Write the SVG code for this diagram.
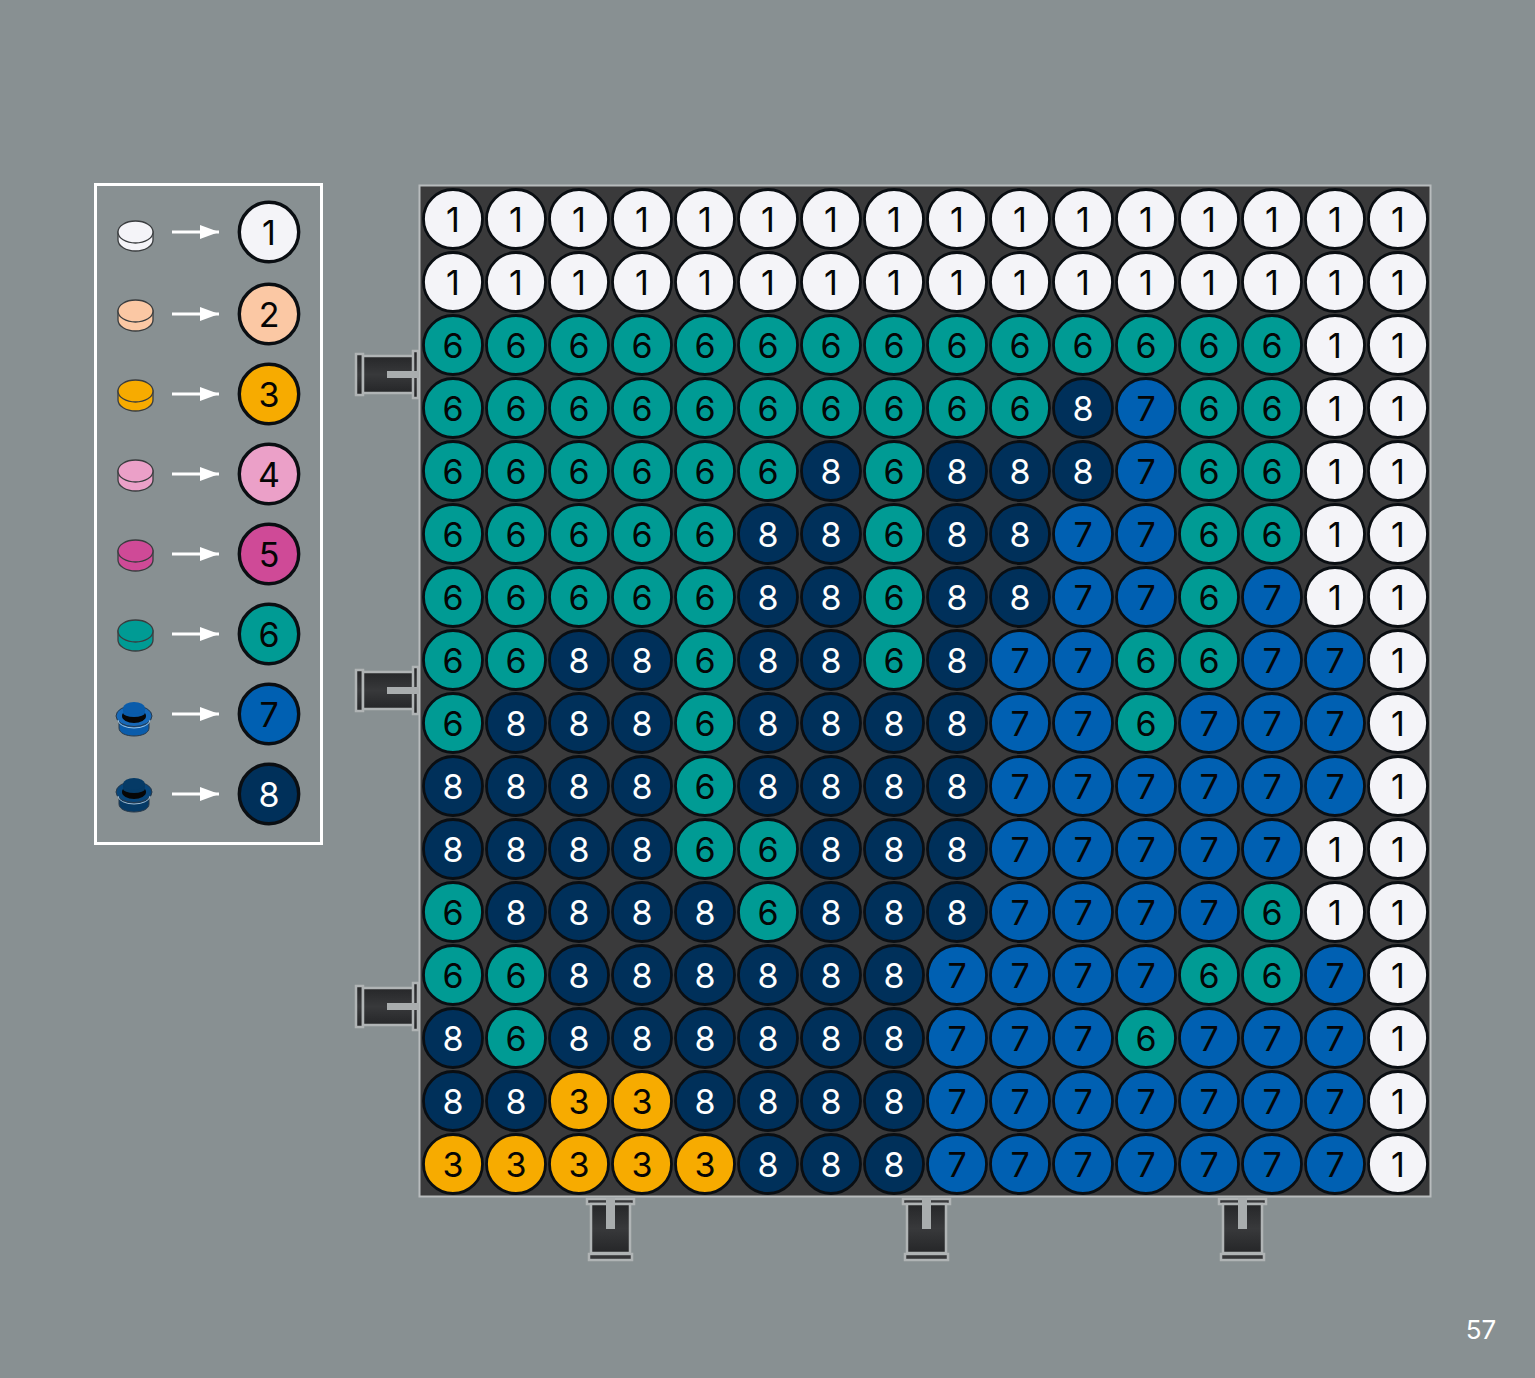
<svg xmlns="http://www.w3.org/2000/svg" width="1535" height="1378" viewBox="0 0 1535 1378">
<defs>
<style>
text{font-family:"Inter","Noto Sans",sans-serif;font-weight:400;font-size:34px;text-anchor:middle;fill:#050505}
circle{stroke:#0a0e12;stroke-width:2.800}
.key circle{stroke-width:3.400}
.n1 circle{fill:#f4f4f8}.n2 circle{fill:#fbc8a4}.n3 circle{fill:#f7ab00}.n4 circle{fill:#eba0c8}.n5 circle{fill:#cf4a97}.n6 circle{fill:#009b94}.n7 circle{fill:#0060b2}.n8 circle{fill:#00305a}
.n8 text{fill:#fff}
.a{stroke:#fff;stroke-width:3;fill:none}
.b{stroke:#3a3d3f;stroke-width:1.300}
.pin{fill:url(#metal);stroke:#b0b4b5;stroke-width:2.500}
</style>
<linearGradient id="metal" x1="0" y1="0" x2="0" y2="1"><stop offset="0" stop-color="#262729"/><stop offset=".5" stop-color="#38393b"/><stop offset="1" stop-color="#252628"/></linearGradient>
<marker id="ah" markerUnits="userSpaceOnUse" markerWidth="20" markerHeight="16" refX="19" refY="7" orient="auto"><path d="M0 0L19 7L0 14Z" fill="#fff"/></marker>
<g id="pinL">
<rect class="pin" x="356" y="354" width="7" height="41"/>
<rect class="pin" x="363" y="356" width="51" height="37"/>
<rect class="pin" x="413" y="351" width="5" height="47"/>
<rect x="387" y="371" width="32" height="7" fill="#a9adae"/>
</g>
<g id="pinB">
<rect class="pin" x="587" y="1199" width="47" height="5"/>
<rect class="pin" x="591" y="1204" width="39" height="49"/>
<rect class="pin" x="589" y="1254" width="43" height="6"/>
<rect x="606" y="1198" width="9" height="31" fill="#a9adae"/>
</g>
</defs>
<rect width="1535" height="1378" fill="#889092"/>
<g id="legend"><rect x="95.500" y="184.500" width="226" height="659" fill="none" stroke="#fff" stroke-width="3"/></g>
<g id="board"><rect x="419.500" y="185.500" width="1011" height="1011" fill="#3a3a3b" stroke="#b8bcbd" stroke-width="2"/></g>
<g id="clips">
<use href="#pinL"/><use href="#pinL" y="316"/><use href="#pinL" y="632"/>
<use href="#pinB"/><use href="#pinB" x="316"/><use href="#pinB" x="632"/>
</g>
<g id="connectors">
<path class="a" marker-end="url(#ah)" d="M172 232H219"/>
<path class="a" marker-end="url(#ah)" d="M172 314H219"/>
<path class="a" marker-end="url(#ah)" d="M172 394H219"/>
<path class="a" marker-end="url(#ah)" d="M172 474H219"/>
<path class="a" marker-end="url(#ah)" d="M172 554H219"/>
<path class="a" marker-end="url(#ah)" d="M172 634H219"/>
<path class="a" marker-end="url(#ah)" d="M172 714H219"/>
<path class="a" marker-end="url(#ah)" d="M172 794H219"/>
</g>
<g id="part1"><path class="b" fill="#f4f4f8" d="M118 232v8c0 6 8 11 17.500 11s17.500-5 17.500-11v-8z"/><ellipse class="b" cx="135.500" cy="232" rx="17.500" ry="11" fill="#f4f4f8"/></g>
<g id="part2"><path class="b" fill="#fbc8a4" d="M118 311v9c0 6 8 11 17.500 11s17.500-5 17.500-11v-9z"/><ellipse class="b" cx="135.500" cy="311" rx="17.500" ry="11" fill="#fbc8a4"/></g>
<g id="part3"><path class="b" fill="#f7ab00" d="M118 391v9c0 6 8 11 17.500 11s17.500-5 17.500-11v-9z"/><ellipse class="b" cx="135.500" cy="391" rx="17.500" ry="11" fill="#f7ab00"/></g>
<g id="part4"><path class="b" fill="#eba0c8" d="M118 471v9c0 6 8 11 17.500 11s17.500-5 17.500-11v-9z"/><ellipse class="b" cx="135.500" cy="471" rx="17.500" ry="11" fill="#eba0c8"/></g>
<g id="part5"><path class="b" fill="#cf4a97" d="M118 551v9c0 6 8 11 17.500 11s17.500-5 17.500-11v-9z"/><ellipse class="b" cx="135.500" cy="551" rx="17.500" ry="11" fill="#cf4a97"/></g>
<g id="part6"><path class="b" fill="#009b94" d="M118 631v9c0 6 8 11 17.500 11s17.500-5 17.500-11v-9z"/><ellipse class="b" cx="135.500" cy="631" rx="17.500" ry="11" fill="#009b94"/></g>
<g id="part7"><path fill="#0a5cab" stroke="#2a3a4a" d="M119 722v6c0 5 7 8 15 8s15-3 15-8v-6z"/><ellipse cx="134" cy="716" rx="18" ry="10.500" fill="#1668b8" stroke="#2a3a4a"/><path d="M118 720a16 8 0 0 0 32 0" fill="none" stroke="#9fc3e0" stroke-width="1"/><ellipse cx="134" cy="716" rx="12" ry="7" fill="#060606"/><path d="M123 708v5a11 4 0 0 0 22 0v-5z" fill="#0a5cab"/><ellipse cx="134" cy="708" rx="11" ry="6" fill="#0a5cab"/></g>
<g id="part8"><path fill="#053a66" stroke="#2a3a4a" d="M119 798v6c0 5 7 8 15 8s15-3 15-8v-6z"/><ellipse cx="134" cy="792" rx="18" ry="10.500" fill="#07457a" stroke="#2a3a4a"/><path d="M118 796a16 8 0 0 0 32 0" fill="none" stroke="#9fb8cc" stroke-width="1"/><ellipse cx="134" cy="792" rx="12" ry="7" fill="#060606"/><path d="M123 784v5a11 4 0 0 0 22 0v-5z" fill="#053a66"/><ellipse cx="134" cy="784" rx="11" ry="6" fill="#053a66"/></g>
<g id="key1" class="key n1" transform="translate(269 232)"><circle r="29.700"/><text y="13">1</text></g>
<g id="key2" class="key n2" transform="translate(269 314)"><circle r="29.700"/><text y="13">2</text></g>
<g id="key3" class="key n3" transform="translate(269 394)"><circle r="29.700"/><text y="13">3</text></g>
<g id="key4" class="key n4" transform="translate(269 474)"><circle r="29.700"/><text y="13">4</text></g>
<g id="key5" class="key n5" transform="translate(269 554)"><circle r="29.700"/><text y="13">5</text></g>
<g id="key6" class="key n6" transform="translate(269 634)"><circle r="29.700"/><text y="13">6</text></g>
<g id="key7" class="key n7" transform="translate(269 714)"><circle r="29.700"/><text y="13">7</text></g>
<g id="key8" class="key n8" transform="translate(269 794)"><circle r="29.700"/><text y="13">8</text></g>
<g id="grid">
<g id="r0c0" class="n1" transform="translate(453 219)"><circle r="29.500"/><text y="13">1</text></g><g id="r0c1" class="n1" transform="translate(516 219)"><circle r="29.500"/><text y="13">1</text></g><g id="r0c2" class="n1" transform="translate(579 219)"><circle r="29.500"/><text y="13">1</text></g><g id="r0c3" class="n1" transform="translate(642 219)"><circle r="29.500"/><text y="13">1</text></g><g id="r0c4" class="n1" transform="translate(705 219)"><circle r="29.500"/><text y="13">1</text></g><g id="r0c5" class="n1" transform="translate(768 219)"><circle r="29.500"/><text y="13">1</text></g><g id="r0c6" class="n1" transform="translate(831 219)"><circle r="29.500"/><text y="13">1</text></g><g id="r0c7" class="n1" transform="translate(894 219)"><circle r="29.500"/><text y="13">1</text></g><g id="r0c8" class="n1" transform="translate(957 219)"><circle r="29.500"/><text y="13">1</text></g><g id="r0c9" class="n1" transform="translate(1020 219)"><circle r="29.500"/><text y="13">1</text></g><g id="r0c10" class="n1" transform="translate(1083 219)"><circle r="29.500"/><text y="13">1</text></g><g id="r0c11" class="n1" transform="translate(1146 219)"><circle r="29.500"/><text y="13">1</text></g><g id="r0c12" class="n1" transform="translate(1209 219)"><circle r="29.500"/><text y="13">1</text></g><g id="r0c13" class="n1" transform="translate(1272 219)"><circle r="29.500"/><text y="13">1</text></g><g id="r0c14" class="n1" transform="translate(1335 219)"><circle r="29.500"/><text y="13">1</text></g><g id="r0c15" class="n1" transform="translate(1398 219)"><circle r="29.500"/><text y="13">1</text></g>
<g id="r1c0" class="n1" transform="translate(453 282)"><circle r="29.500"/><text y="13">1</text></g><g id="r1c1" class="n1" transform="translate(516 282)"><circle r="29.500"/><text y="13">1</text></g><g id="r1c2" class="n1" transform="translate(579 282)"><circle r="29.500"/><text y="13">1</text></g><g id="r1c3" class="n1" transform="translate(642 282)"><circle r="29.500"/><text y="13">1</text></g><g id="r1c4" class="n1" transform="translate(705 282)"><circle r="29.500"/><text y="13">1</text></g><g id="r1c5" class="n1" transform="translate(768 282)"><circle r="29.500"/><text y="13">1</text></g><g id="r1c6" class="n1" transform="translate(831 282)"><circle r="29.500"/><text y="13">1</text></g><g id="r1c7" class="n1" transform="translate(894 282)"><circle r="29.500"/><text y="13">1</text></g><g id="r1c8" class="n1" transform="translate(957 282)"><circle r="29.500"/><text y="13">1</text></g><g id="r1c9" class="n1" transform="translate(1020 282)"><circle r="29.500"/><text y="13">1</text></g><g id="r1c10" class="n1" transform="translate(1083 282)"><circle r="29.500"/><text y="13">1</text></g><g id="r1c11" class="n1" transform="translate(1146 282)"><circle r="29.500"/><text y="13">1</text></g><g id="r1c12" class="n1" transform="translate(1209 282)"><circle r="29.500"/><text y="13">1</text></g><g id="r1c13" class="n1" transform="translate(1272 282)"><circle r="29.500"/><text y="13">1</text></g><g id="r1c14" class="n1" transform="translate(1335 282)"><circle r="29.500"/><text y="13">1</text></g><g id="r1c15" class="n1" transform="translate(1398 282)"><circle r="29.500"/><text y="13">1</text></g>
<g id="r2c0" class="n6" transform="translate(453 345)"><circle r="29.500"/><text y="13">6</text></g><g id="r2c1" class="n6" transform="translate(516 345)"><circle r="29.500"/><text y="13">6</text></g><g id="r2c2" class="n6" transform="translate(579 345)"><circle r="29.500"/><text y="13">6</text></g><g id="r2c3" class="n6" transform="translate(642 345)"><circle r="29.500"/><text y="13">6</text></g><g id="r2c4" class="n6" transform="translate(705 345)"><circle r="29.500"/><text y="13">6</text></g><g id="r2c5" class="n6" transform="translate(768 345)"><circle r="29.500"/><text y="13">6</text></g><g id="r2c6" class="n6" transform="translate(831 345)"><circle r="29.500"/><text y="13">6</text></g><g id="r2c7" class="n6" transform="translate(894 345)"><circle r="29.500"/><text y="13">6</text></g><g id="r2c8" class="n6" transform="translate(957 345)"><circle r="29.500"/><text y="13">6</text></g><g id="r2c9" class="n6" transform="translate(1020 345)"><circle r="29.500"/><text y="13">6</text></g><g id="r2c10" class="n6" transform="translate(1083 345)"><circle r="29.500"/><text y="13">6</text></g><g id="r2c11" class="n6" transform="translate(1146 345)"><circle r="29.500"/><text y="13">6</text></g><g id="r2c12" class="n6" transform="translate(1209 345)"><circle r="29.500"/><text y="13">6</text></g><g id="r2c13" class="n6" transform="translate(1272 345)"><circle r="29.500"/><text y="13">6</text></g><g id="r2c14" class="n1" transform="translate(1335 345)"><circle r="29.500"/><text y="13">1</text></g><g id="r2c15" class="n1" transform="translate(1398 345)"><circle r="29.500"/><text y="13">1</text></g>
<g id="r3c0" class="n6" transform="translate(453 408)"><circle r="29.500"/><text y="13">6</text></g><g id="r3c1" class="n6" transform="translate(516 408)"><circle r="29.500"/><text y="13">6</text></g><g id="r3c2" class="n6" transform="translate(579 408)"><circle r="29.500"/><text y="13">6</text></g><g id="r3c3" class="n6" transform="translate(642 408)"><circle r="29.500"/><text y="13">6</text></g><g id="r3c4" class="n6" transform="translate(705 408)"><circle r="29.500"/><text y="13">6</text></g><g id="r3c5" class="n6" transform="translate(768 408)"><circle r="29.500"/><text y="13">6</text></g><g id="r3c6" class="n6" transform="translate(831 408)"><circle r="29.500"/><text y="13">6</text></g><g id="r3c7" class="n6" transform="translate(894 408)"><circle r="29.500"/><text y="13">6</text></g><g id="r3c8" class="n6" transform="translate(957 408)"><circle r="29.500"/><text y="13">6</text></g><g id="r3c9" class="n6" transform="translate(1020 408)"><circle r="29.500"/><text y="13">6</text></g><g id="r3c10" class="n8" transform="translate(1083 408)"><circle r="29.500"/><text y="13">8</text></g><g id="r3c11" class="n7" transform="translate(1146 408)"><circle r="29.500"/><text y="13">7</text></g><g id="r3c12" class="n6" transform="translate(1209 408)"><circle r="29.500"/><text y="13">6</text></g><g id="r3c13" class="n6" transform="translate(1272 408)"><circle r="29.500"/><text y="13">6</text></g><g id="r3c14" class="n1" transform="translate(1335 408)"><circle r="29.500"/><text y="13">1</text></g><g id="r3c15" class="n1" transform="translate(1398 408)"><circle r="29.500"/><text y="13">1</text></g>
<g id="r4c0" class="n6" transform="translate(453 471)"><circle r="29.500"/><text y="13">6</text></g><g id="r4c1" class="n6" transform="translate(516 471)"><circle r="29.500"/><text y="13">6</text></g><g id="r4c2" class="n6" transform="translate(579 471)"><circle r="29.500"/><text y="13">6</text></g><g id="r4c3" class="n6" transform="translate(642 471)"><circle r="29.500"/><text y="13">6</text></g><g id="r4c4" class="n6" transform="translate(705 471)"><circle r="29.500"/><text y="13">6</text></g><g id="r4c5" class="n6" transform="translate(768 471)"><circle r="29.500"/><text y="13">6</text></g><g id="r4c6" class="n8" transform="translate(831 471)"><circle r="29.500"/><text y="13">8</text></g><g id="r4c7" class="n6" transform="translate(894 471)"><circle r="29.500"/><text y="13">6</text></g><g id="r4c8" class="n8" transform="translate(957 471)"><circle r="29.500"/><text y="13">8</text></g><g id="r4c9" class="n8" transform="translate(1020 471)"><circle r="29.500"/><text y="13">8</text></g><g id="r4c10" class="n8" transform="translate(1083 471)"><circle r="29.500"/><text y="13">8</text></g><g id="r4c11" class="n7" transform="translate(1146 471)"><circle r="29.500"/><text y="13">7</text></g><g id="r4c12" class="n6" transform="translate(1209 471)"><circle r="29.500"/><text y="13">6</text></g><g id="r4c13" class="n6" transform="translate(1272 471)"><circle r="29.500"/><text y="13">6</text></g><g id="r4c14" class="n1" transform="translate(1335 471)"><circle r="29.500"/><text y="13">1</text></g><g id="r4c15" class="n1" transform="translate(1398 471)"><circle r="29.500"/><text y="13">1</text></g>
<g id="r5c0" class="n6" transform="translate(453 534)"><circle r="29.500"/><text y="13">6</text></g><g id="r5c1" class="n6" transform="translate(516 534)"><circle r="29.500"/><text y="13">6</text></g><g id="r5c2" class="n6" transform="translate(579 534)"><circle r="29.500"/><text y="13">6</text></g><g id="r5c3" class="n6" transform="translate(642 534)"><circle r="29.500"/><text y="13">6</text></g><g id="r5c4" class="n6" transform="translate(705 534)"><circle r="29.500"/><text y="13">6</text></g><g id="r5c5" class="n8" transform="translate(768 534)"><circle r="29.500"/><text y="13">8</text></g><g id="r5c6" class="n8" transform="translate(831 534)"><circle r="29.500"/><text y="13">8</text></g><g id="r5c7" class="n6" transform="translate(894 534)"><circle r="29.500"/><text y="13">6</text></g><g id="r5c8" class="n8" transform="translate(957 534)"><circle r="29.500"/><text y="13">8</text></g><g id="r5c9" class="n8" transform="translate(1020 534)"><circle r="29.500"/><text y="13">8</text></g><g id="r5c10" class="n7" transform="translate(1083 534)"><circle r="29.500"/><text y="13">7</text></g><g id="r5c11" class="n7" transform="translate(1146 534)"><circle r="29.500"/><text y="13">7</text></g><g id="r5c12" class="n6" transform="translate(1209 534)"><circle r="29.500"/><text y="13">6</text></g><g id="r5c13" class="n6" transform="translate(1272 534)"><circle r="29.500"/><text y="13">6</text></g><g id="r5c14" class="n1" transform="translate(1335 534)"><circle r="29.500"/><text y="13">1</text></g><g id="r5c15" class="n1" transform="translate(1398 534)"><circle r="29.500"/><text y="13">1</text></g>
<g id="r6c0" class="n6" transform="translate(453 597)"><circle r="29.500"/><text y="13">6</text></g><g id="r6c1" class="n6" transform="translate(516 597)"><circle r="29.500"/><text y="13">6</text></g><g id="r6c2" class="n6" transform="translate(579 597)"><circle r="29.500"/><text y="13">6</text></g><g id="r6c3" class="n6" transform="translate(642 597)"><circle r="29.500"/><text y="13">6</text></g><g id="r6c4" class="n6" transform="translate(705 597)"><circle r="29.500"/><text y="13">6</text></g><g id="r6c5" class="n8" transform="translate(768 597)"><circle r="29.500"/><text y="13">8</text></g><g id="r6c6" class="n8" transform="translate(831 597)"><circle r="29.500"/><text y="13">8</text></g><g id="r6c7" class="n6" transform="translate(894 597)"><circle r="29.500"/><text y="13">6</text></g><g id="r6c8" class="n8" transform="translate(957 597)"><circle r="29.500"/><text y="13">8</text></g><g id="r6c9" class="n8" transform="translate(1020 597)"><circle r="29.500"/><text y="13">8</text></g><g id="r6c10" class="n7" transform="translate(1083 597)"><circle r="29.500"/><text y="13">7</text></g><g id="r6c11" class="n7" transform="translate(1146 597)"><circle r="29.500"/><text y="13">7</text></g><g id="r6c12" class="n6" transform="translate(1209 597)"><circle r="29.500"/><text y="13">6</text></g><g id="r6c13" class="n7" transform="translate(1272 597)"><circle r="29.500"/><text y="13">7</text></g><g id="r6c14" class="n1" transform="translate(1335 597)"><circle r="29.500"/><text y="13">1</text></g><g id="r6c15" class="n1" transform="translate(1398 597)"><circle r="29.500"/><text y="13">1</text></g>
<g id="r7c0" class="n6" transform="translate(453 660)"><circle r="29.500"/><text y="13">6</text></g><g id="r7c1" class="n6" transform="translate(516 660)"><circle r="29.500"/><text y="13">6</text></g><g id="r7c2" class="n8" transform="translate(579 660)"><circle r="29.500"/><text y="13">8</text></g><g id="r7c3" class="n8" transform="translate(642 660)"><circle r="29.500"/><text y="13">8</text></g><g id="r7c4" class="n6" transform="translate(705 660)"><circle r="29.500"/><text y="13">6</text></g><g id="r7c5" class="n8" transform="translate(768 660)"><circle r="29.500"/><text y="13">8</text></g><g id="r7c6" class="n8" transform="translate(831 660)"><circle r="29.500"/><text y="13">8</text></g><g id="r7c7" class="n6" transform="translate(894 660)"><circle r="29.500"/><text y="13">6</text></g><g id="r7c8" class="n8" transform="translate(957 660)"><circle r="29.500"/><text y="13">8</text></g><g id="r7c9" class="n7" transform="translate(1020 660)"><circle r="29.500"/><text y="13">7</text></g><g id="r7c10" class="n7" transform="translate(1083 660)"><circle r="29.500"/><text y="13">7</text></g><g id="r7c11" class="n6" transform="translate(1146 660)"><circle r="29.500"/><text y="13">6</text></g><g id="r7c12" class="n6" transform="translate(1209 660)"><circle r="29.500"/><text y="13">6</text></g><g id="r7c13" class="n7" transform="translate(1272 660)"><circle r="29.500"/><text y="13">7</text></g><g id="r7c14" class="n7" transform="translate(1335 660)"><circle r="29.500"/><text y="13">7</text></g><g id="r7c15" class="n1" transform="translate(1398 660)"><circle r="29.500"/><text y="13">1</text></g>
<g id="r8c0" class="n6" transform="translate(453 723)"><circle r="29.500"/><text y="13">6</text></g><g id="r8c1" class="n8" transform="translate(516 723)"><circle r="29.500"/><text y="13">8</text></g><g id="r8c2" class="n8" transform="translate(579 723)"><circle r="29.500"/><text y="13">8</text></g><g id="r8c3" class="n8" transform="translate(642 723)"><circle r="29.500"/><text y="13">8</text></g><g id="r8c4" class="n6" transform="translate(705 723)"><circle r="29.500"/><text y="13">6</text></g><g id="r8c5" class="n8" transform="translate(768 723)"><circle r="29.500"/><text y="13">8</text></g><g id="r8c6" class="n8" transform="translate(831 723)"><circle r="29.500"/><text y="13">8</text></g><g id="r8c7" class="n8" transform="translate(894 723)"><circle r="29.500"/><text y="13">8</text></g><g id="r8c8" class="n8" transform="translate(957 723)"><circle r="29.500"/><text y="13">8</text></g><g id="r8c9" class="n7" transform="translate(1020 723)"><circle r="29.500"/><text y="13">7</text></g><g id="r8c10" class="n7" transform="translate(1083 723)"><circle r="29.500"/><text y="13">7</text></g><g id="r8c11" class="n6" transform="translate(1146 723)"><circle r="29.500"/><text y="13">6</text></g><g id="r8c12" class="n7" transform="translate(1209 723)"><circle r="29.500"/><text y="13">7</text></g><g id="r8c13" class="n7" transform="translate(1272 723)"><circle r="29.500"/><text y="13">7</text></g><g id="r8c14" class="n7" transform="translate(1335 723)"><circle r="29.500"/><text y="13">7</text></g><g id="r8c15" class="n1" transform="translate(1398 723)"><circle r="29.500"/><text y="13">1</text></g>
<g id="r9c0" class="n8" transform="translate(453 786)"><circle r="29.500"/><text y="13">8</text></g><g id="r9c1" class="n8" transform="translate(516 786)"><circle r="29.500"/><text y="13">8</text></g><g id="r9c2" class="n8" transform="translate(579 786)"><circle r="29.500"/><text y="13">8</text></g><g id="r9c3" class="n8" transform="translate(642 786)"><circle r="29.500"/><text y="13">8</text></g><g id="r9c4" class="n6" transform="translate(705 786)"><circle r="29.500"/><text y="13">6</text></g><g id="r9c5" class="n8" transform="translate(768 786)"><circle r="29.500"/><text y="13">8</text></g><g id="r9c6" class="n8" transform="translate(831 786)"><circle r="29.500"/><text y="13">8</text></g><g id="r9c7" class="n8" transform="translate(894 786)"><circle r="29.500"/><text y="13">8</text></g><g id="r9c8" class="n8" transform="translate(957 786)"><circle r="29.500"/><text y="13">8</text></g><g id="r9c9" class="n7" transform="translate(1020 786)"><circle r="29.500"/><text y="13">7</text></g><g id="r9c10" class="n7" transform="translate(1083 786)"><circle r="29.500"/><text y="13">7</text></g><g id="r9c11" class="n7" transform="translate(1146 786)"><circle r="29.500"/><text y="13">7</text></g><g id="r9c12" class="n7" transform="translate(1209 786)"><circle r="29.500"/><text y="13">7</text></g><g id="r9c13" class="n7" transform="translate(1272 786)"><circle r="29.500"/><text y="13">7</text></g><g id="r9c14" class="n7" transform="translate(1335 786)"><circle r="29.500"/><text y="13">7</text></g><g id="r9c15" class="n1" transform="translate(1398 786)"><circle r="29.500"/><text y="13">1</text></g>
<g id="r10c0" class="n8" transform="translate(453 849)"><circle r="29.500"/><text y="13">8</text></g><g id="r10c1" class="n8" transform="translate(516 849)"><circle r="29.500"/><text y="13">8</text></g><g id="r10c2" class="n8" transform="translate(579 849)"><circle r="29.500"/><text y="13">8</text></g><g id="r10c3" class="n8" transform="translate(642 849)"><circle r="29.500"/><text y="13">8</text></g><g id="r10c4" class="n6" transform="translate(705 849)"><circle r="29.500"/><text y="13">6</text></g><g id="r10c5" class="n6" transform="translate(768 849)"><circle r="29.500"/><text y="13">6</text></g><g id="r10c6" class="n8" transform="translate(831 849)"><circle r="29.500"/><text y="13">8</text></g><g id="r10c7" class="n8" transform="translate(894 849)"><circle r="29.500"/><text y="13">8</text></g><g id="r10c8" class="n8" transform="translate(957 849)"><circle r="29.500"/><text y="13">8</text></g><g id="r10c9" class="n7" transform="translate(1020 849)"><circle r="29.500"/><text y="13">7</text></g><g id="r10c10" class="n7" transform="translate(1083 849)"><circle r="29.500"/><text y="13">7</text></g><g id="r10c11" class="n7" transform="translate(1146 849)"><circle r="29.500"/><text y="13">7</text></g><g id="r10c12" class="n7" transform="translate(1209 849)"><circle r="29.500"/><text y="13">7</text></g><g id="r10c13" class="n7" transform="translate(1272 849)"><circle r="29.500"/><text y="13">7</text></g><g id="r10c14" class="n1" transform="translate(1335 849)"><circle r="29.500"/><text y="13">1</text></g><g id="r10c15" class="n1" transform="translate(1398 849)"><circle r="29.500"/><text y="13">1</text></g>
<g id="r11c0" class="n6" transform="translate(453 912)"><circle r="29.500"/><text y="13">6</text></g><g id="r11c1" class="n8" transform="translate(516 912)"><circle r="29.500"/><text y="13">8</text></g><g id="r11c2" class="n8" transform="translate(579 912)"><circle r="29.500"/><text y="13">8</text></g><g id="r11c3" class="n8" transform="translate(642 912)"><circle r="29.500"/><text y="13">8</text></g><g id="r11c4" class="n8" transform="translate(705 912)"><circle r="29.500"/><text y="13">8</text></g><g id="r11c5" class="n6" transform="translate(768 912)"><circle r="29.500"/><text y="13">6</text></g><g id="r11c6" class="n8" transform="translate(831 912)"><circle r="29.500"/><text y="13">8</text></g><g id="r11c7" class="n8" transform="translate(894 912)"><circle r="29.500"/><text y="13">8</text></g><g id="r11c8" class="n8" transform="translate(957 912)"><circle r="29.500"/><text y="13">8</text></g><g id="r11c9" class="n7" transform="translate(1020 912)"><circle r="29.500"/><text y="13">7</text></g><g id="r11c10" class="n7" transform="translate(1083 912)"><circle r="29.500"/><text y="13">7</text></g><g id="r11c11" class="n7" transform="translate(1146 912)"><circle r="29.500"/><text y="13">7</text></g><g id="r11c12" class="n7" transform="translate(1209 912)"><circle r="29.500"/><text y="13">7</text></g><g id="r11c13" class="n6" transform="translate(1272 912)"><circle r="29.500"/><text y="13">6</text></g><g id="r11c14" class="n1" transform="translate(1335 912)"><circle r="29.500"/><text y="13">1</text></g><g id="r11c15" class="n1" transform="translate(1398 912)"><circle r="29.500"/><text y="13">1</text></g>
<g id="r12c0" class="n6" transform="translate(453 975)"><circle r="29.500"/><text y="13">6</text></g><g id="r12c1" class="n6" transform="translate(516 975)"><circle r="29.500"/><text y="13">6</text></g><g id="r12c2" class="n8" transform="translate(579 975)"><circle r="29.500"/><text y="13">8</text></g><g id="r12c3" class="n8" transform="translate(642 975)"><circle r="29.500"/><text y="13">8</text></g><g id="r12c4" class="n8" transform="translate(705 975)"><circle r="29.500"/><text y="13">8</text></g><g id="r12c5" class="n8" transform="translate(768 975)"><circle r="29.500"/><text y="13">8</text></g><g id="r12c6" class="n8" transform="translate(831 975)"><circle r="29.500"/><text y="13">8</text></g><g id="r12c7" class="n8" transform="translate(894 975)"><circle r="29.500"/><text y="13">8</text></g><g id="r12c8" class="n7" transform="translate(957 975)"><circle r="29.500"/><text y="13">7</text></g><g id="r12c9" class="n7" transform="translate(1020 975)"><circle r="29.500"/><text y="13">7</text></g><g id="r12c10" class="n7" transform="translate(1083 975)"><circle r="29.500"/><text y="13">7</text></g><g id="r12c11" class="n7" transform="translate(1146 975)"><circle r="29.500"/><text y="13">7</text></g><g id="r12c12" class="n6" transform="translate(1209 975)"><circle r="29.500"/><text y="13">6</text></g><g id="r12c13" class="n6" transform="translate(1272 975)"><circle r="29.500"/><text y="13">6</text></g><g id="r12c14" class="n7" transform="translate(1335 975)"><circle r="29.500"/><text y="13">7</text></g><g id="r12c15" class="n1" transform="translate(1398 975)"><circle r="29.500"/><text y="13">1</text></g>
<g id="r13c0" class="n8" transform="translate(453 1038)"><circle r="29.500"/><text y="13">8</text></g><g id="r13c1" class="n6" transform="translate(516 1038)"><circle r="29.500"/><text y="13">6</text></g><g id="r13c2" class="n8" transform="translate(579 1038)"><circle r="29.500"/><text y="13">8</text></g><g id="r13c3" class="n8" transform="translate(642 1038)"><circle r="29.500"/><text y="13">8</text></g><g id="r13c4" class="n8" transform="translate(705 1038)"><circle r="29.500"/><text y="13">8</text></g><g id="r13c5" class="n8" transform="translate(768 1038)"><circle r="29.500"/><text y="13">8</text></g><g id="r13c6" class="n8" transform="translate(831 1038)"><circle r="29.500"/><text y="13">8</text></g><g id="r13c7" class="n8" transform="translate(894 1038)"><circle r="29.500"/><text y="13">8</text></g><g id="r13c8" class="n7" transform="translate(957 1038)"><circle r="29.500"/><text y="13">7</text></g><g id="r13c9" class="n7" transform="translate(1020 1038)"><circle r="29.500"/><text y="13">7</text></g><g id="r13c10" class="n7" transform="translate(1083 1038)"><circle r="29.500"/><text y="13">7</text></g><g id="r13c11" class="n6" transform="translate(1146 1038)"><circle r="29.500"/><text y="13">6</text></g><g id="r13c12" class="n7" transform="translate(1209 1038)"><circle r="29.500"/><text y="13">7</text></g><g id="r13c13" class="n7" transform="translate(1272 1038)"><circle r="29.500"/><text y="13">7</text></g><g id="r13c14" class="n7" transform="translate(1335 1038)"><circle r="29.500"/><text y="13">7</text></g><g id="r13c15" class="n1" transform="translate(1398 1038)"><circle r="29.500"/><text y="13">1</text></g>
<g id="r14c0" class="n8" transform="translate(453 1101)"><circle r="29.500"/><text y="13">8</text></g><g id="r14c1" class="n8" transform="translate(516 1101)"><circle r="29.500"/><text y="13">8</text></g><g id="r14c2" class="n3" transform="translate(579 1101)"><circle r="29.500"/><text y="13">3</text></g><g id="r14c3" class="n3" transform="translate(642 1101)"><circle r="29.500"/><text y="13">3</text></g><g id="r14c4" class="n8" transform="translate(705 1101)"><circle r="29.500"/><text y="13">8</text></g><g id="r14c5" class="n8" transform="translate(768 1101)"><circle r="29.500"/><text y="13">8</text></g><g id="r14c6" class="n8" transform="translate(831 1101)"><circle r="29.500"/><text y="13">8</text></g><g id="r14c7" class="n8" transform="translate(894 1101)"><circle r="29.500"/><text y="13">8</text></g><g id="r14c8" class="n7" transform="translate(957 1101)"><circle r="29.500"/><text y="13">7</text></g><g id="r14c9" class="n7" transform="translate(1020 1101)"><circle r="29.500"/><text y="13">7</text></g><g id="r14c10" class="n7" transform="translate(1083 1101)"><circle r="29.500"/><text y="13">7</text></g><g id="r14c11" class="n7" transform="translate(1146 1101)"><circle r="29.500"/><text y="13">7</text></g><g id="r14c12" class="n7" transform="translate(1209 1101)"><circle r="29.500"/><text y="13">7</text></g><g id="r14c13" class="n7" transform="translate(1272 1101)"><circle r="29.500"/><text y="13">7</text></g><g id="r14c14" class="n7" transform="translate(1335 1101)"><circle r="29.500"/><text y="13">7</text></g><g id="r14c15" class="n1" transform="translate(1398 1101)"><circle r="29.500"/><text y="13">1</text></g>
<g id="r15c0" class="n3" transform="translate(453 1164)"><circle r="29.500"/><text y="13">3</text></g><g id="r15c1" class="n3" transform="translate(516 1164)"><circle r="29.500"/><text y="13">3</text></g><g id="r15c2" class="n3" transform="translate(579 1164)"><circle r="29.500"/><text y="13">3</text></g><g id="r15c3" class="n3" transform="translate(642 1164)"><circle r="29.500"/><text y="13">3</text></g><g id="r15c4" class="n3" transform="translate(705 1164)"><circle r="29.500"/><text y="13">3</text></g><g id="r15c5" class="n8" transform="translate(768 1164)"><circle r="29.500"/><text y="13">8</text></g><g id="r15c6" class="n8" transform="translate(831 1164)"><circle r="29.500"/><text y="13">8</text></g><g id="r15c7" class="n8" transform="translate(894 1164)"><circle r="29.500"/><text y="13">8</text></g><g id="r15c8" class="n7" transform="translate(957 1164)"><circle r="29.500"/><text y="13">7</text></g><g id="r15c9" class="n7" transform="translate(1020 1164)"><circle r="29.500"/><text y="13">7</text></g><g id="r15c10" class="n7" transform="translate(1083 1164)"><circle r="29.500"/><text y="13">7</text></g><g id="r15c11" class="n7" transform="translate(1146 1164)"><circle r="29.500"/><text y="13">7</text></g><g id="r15c12" class="n7" transform="translate(1209 1164)"><circle r="29.500"/><text y="13">7</text></g><g id="r15c13" class="n7" transform="translate(1272 1164)"><circle r="29.500"/><text y="13">7</text></g><g id="r15c14" class="n7" transform="translate(1335 1164)"><circle r="29.500"/><text y="13">7</text></g><g id="r15c15" class="n1" transform="translate(1398 1164)"><circle r="29.500"/><text y="13">1</text></g>
</g>
<text id="page" x="1481" y="1339" style="fill:#fff;font-size:26px;font-weight:400">57</text>
</svg>
